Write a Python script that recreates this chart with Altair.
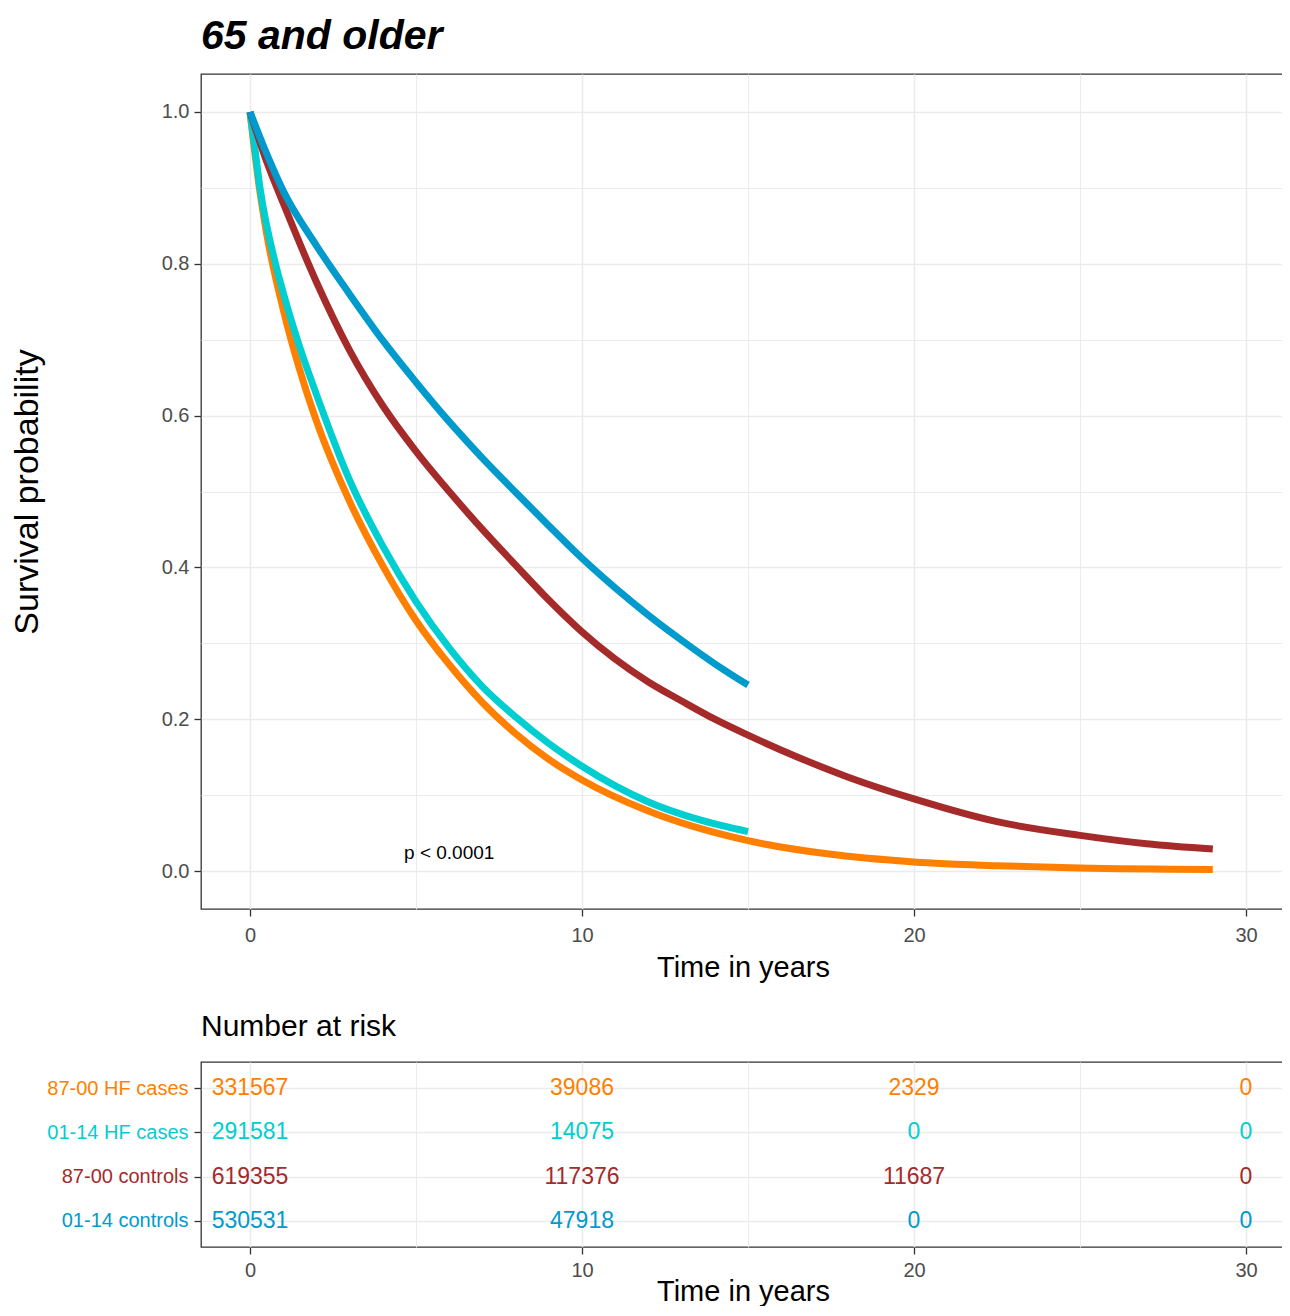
import altair as alt
import pandas as pd

# ---------------- data ----------------
groups = ["87-00 HF cases", "01-14 HF cases", "87-00 controls", "01-14 controls"]
colors = ["#FF7F00", "#00CED1", "#A52A2A", "#009ACD"]

t_hf8700 = [0, 0.1, 0.25, 0.5, 1, 1.5, 2, 3, 4, 5, 6, 7, 8, 9, 10, 12, 15, 17.5, 20, 22.5, 25, 29]
s_hf8700 = [1, 0.962, 0.91, 0.84, 0.74, 0.66, 0.593, 0.487, 0.402, 0.330, 0.272, 0.222, 0.181, 0.147,
            0.12, 0.079, 0.04, 0.022, 0.012, 0.007, 0.004, 0.002]

t_hf0114 = [0, 0.1, 0.3, 0.75, 1, 1.5, 2, 3, 4, 5, 6, 7, 8, 9, 10, 12, 13.5, 15]
s_hf0114 = [1, 0.968, 0.9, 0.803, 0.762, 0.69, 0.628, 0.515, 0.428, 0.355, 0.294, 0.243, 0.203, 0.168,
            0.138, 0.091, 0.068, 0.052]

t_ct8700 = [0, 0.5, 1, 2, 3, 4, 5, 6, 7, 8, 9, 10, 12, 13, 14, 15, 16.5, 18, 20, 22.5, 25, 27, 29]
s_ct8700 = [1, 0.935, 0.88, 0.776, 0.686, 0.613, 0.553, 0.5, 0.45, 0.403, 0.357, 0.315, 0.249, 0.224,
            0.2, 0.179, 0.15, 0.124, 0.095, 0.065, 0.047, 0.036, 0.029]

t_ct0114 = [0, 0.5, 1, 2, 3, 4, 5, 6, 7, 8, 9, 10, 11, 12, 13, 14, 15]
s_ct0114 = [1, 0.945, 0.896, 0.824, 0.760, 0.699, 0.644, 0.592, 0.544, 0.499, 0.455, 0.412, 0.373,
            0.337, 0.304, 0.273, 0.245]

risk_times = [0, 10, 20, 30]
risk_hf8700 = [331567, 39086, 2329, 0]
risk_hf0114 = [291581, 14075, 0, 0]
risk_ct8700 = [619355, 117376, 11687, 0]
risk_ct0114 = [530531, 47918, 0, 0]

p_text = "p < 0.0001"
p_t, p_s = 6.0, 0.024

title_text = "65 and older"
risk_title = "Number at risk"
x_title = "Time in years"
y_title = "Survival probability"

# ---------------- tables ----------------
curves = [(t_hf8700, s_hf8700), (t_hf0114, s_hf0114), (t_ct8700, s_ct8700), (t_ct0114, s_ct0114)]
risks = [risk_hf8700, risk_hf0114, risk_ct8700, risk_ct0114]

risk_rows = []
for g, vals in zip(groups, risks):
    for t, v in zip(risk_times, vals):
        risk_rows.append({"time": t, "group": g, "n": str(v)})
risk_df = pd.DataFrame(risk_rows)

FONT = "Liberation Sans, Arial, sans-serif"

W = 1084
xdom = [-1.476, -1.476 + W / 33.2]
xscale = alt.Scale(domain=xdom, nice=False, zero=False)
yscale = alt.Scale(domain=[-0.05, 1.05], nice=False, zero=False)

x_vals = [0, 5, 10, 15, 20, 25, 30]
y_vals = [round(i * 0.1, 1) for i in range(11)]

minor_x = "datum.value % 10 !== 0"


def make_x_axis(title_pad, label_pad):
    return alt.Axis(
        values=x_vals,
        labelExpr="datum.value % 10 === 0 ? datum.label : ''",
        tickOpacity={"condition": {"test": minor_x, "value": 0}, "value": 1},
        gridWidth={"condition": {"test": minor_x, "value": 1}, "value": 1.5},
        title=x_title,
        titlePadding=title_pad,
        labelPadding=label_pad,
    )


minor_y = "round(datum.value * 10) % 2 !== 0"
y_axis = alt.Axis(
    values=y_vals,
    labelExpr="round(datum.value * 10) % 2 === 0 ? format(datum.value, '.1f') : ''",
    tickOpacity={"condition": {"test": minor_y, "value": 0}, "value": 1},
    gridWidth={"condition": {"test": minor_y, "value": 1}, "value": 1.5},
    title=y_title,
    titleFontSize=34,
    labelPadding=5,
    minExtent=40,
    maxExtent=40,
    titlePadding=117,
)

x_axis = make_x_axis(8, 9)

layers = []
for (ts, ss), g, c in zip(curves, groups, colors):
    df = pd.DataFrame({"time": ts, "surv": ss, "group": g})
    layers.append(
        alt.Chart(df).mark_line(color=c, strokeWidth=7, interpolate="monotone", strokeCap="butt").encode(
            x=alt.X("time:Q", scale=xscale, axis=x_axis),
            y=alt.Y("surv:Q", scale=yscale, axis=y_axis),
        )
    )

p_df = pd.DataFrame({"time": [p_t], "surv": [p_s], "label": [p_text]})
p_layer = alt.Chart(p_df).mark_text(font=FONT, fontSize=19, color="black", baseline="middle", align="center").encode(
    x=alt.X("time:Q", scale=xscale, axis=x_axis),
    y=alt.Y("surv:Q", scale=yscale, axis=y_axis),
    text="label:N",
)

main = alt.layer(*layers, p_layer).properties(
    width=W,
    height=835,
    title=alt.Title(
        title_text, anchor="start", frame="group", font=FONT, fontSize=41,
        fontStyle="italic", fontWeight="bold", baseline="alphabetic", offset=-16, color="black",
    ),
)

label_cond = [{"test": f"datum.value === '{g}'", "value": c} for g, c in zip(groups, colors)]

risk_y_axis = alt.Axis(
    title=None,
    labelColor={"condition": label_cond, "value": "#4D4D4D"},
    labelFontSize=20,
    labelPadding=6,
    gridWidth=1.5,
)

risk = alt.Chart(risk_df).mark_text(font=FONT, fontSize=23, baseline="middle", align="center").encode(
    x=alt.X("time:Q", scale=xscale, axis=make_x_axis(-3, 6)),
    y=alt.Y("group:N", scale=alt.Scale(type="point", domain=groups, padding=0.6), axis=risk_y_axis, sort=groups),
    text="n:N",
    color=alt.Color("group:N", scale=alt.Scale(domain=groups, range=colors), legend=None),
).properties(
    width=W,
    height=185,
    title=alt.Title(
        risk_title, anchor="start", frame="group", font=FONT, fontSize=30,
        fontWeight="normal", baseline="alphabetic", offset=-4, color="black",
    ),
)

chart = alt.vconcat(main, risk, spacing=28).properties(
    padding={"left": 1, "top": 7, "right": -4, "bottom": -1}
).configure_view(
    stroke="#333333", strokeWidth=1.3
).configure_axis(
    domain=False,
    grid=True,
    gridColor="#EBEBEB",
    tickColor="#333333",
    tickSize=7,
    tickWidth=1.3,
    labelColor="#4D4D4D",
    labelFont=FONT,
    labelFontSize=20,
    titleFont=FONT,
    titleFontSize=29,
    titleFontWeight="normal",
    titleColor="black",
)

chart.save("out.html", embed_options={"renderer": "svg", "actions": False})
